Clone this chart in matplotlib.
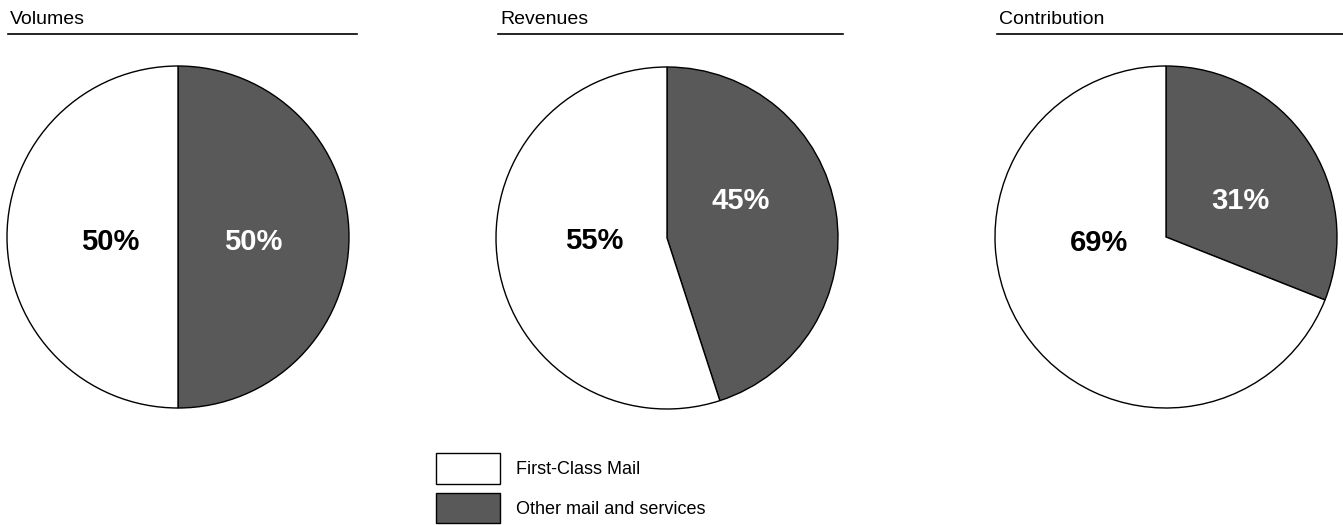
"""
Three pie charts: share of First-Class Mail vs other mail and services
in volumes, revenues and contribution.
"""

import matplotlib.pyplot as plt
from matplotlib.lines import Line2D
from matplotlib.patches import Patch

plt.rcParams["font.family"] = ["Liberation Sans", "DejaVu Sans"]

panels = ["Volumes", "Revenues", "Contribution"]
categories = ["First-Class Mail", "Other mail and services"]
first_class = [50, 55, 69]
other = [50, 45, 31]

LIGHT = "#ffffff"
DARK = "#595959"

W, H = 1343, 525
fig = plt.figure(figsize=(W / 100, H / 100), dpi=100)

# pixel geometry of each pie (center x, center y, radius) and title rule
pie_pos = [(178, 237), (667, 238), (1166, 237)]
radius = 171
rules = [(8, 357), (498, 843), (997, 1343)]
# label offsets in units of radius: (first-class label, other label)
label_off = [
    ((-0.395, -0.032), (0.44, -0.032)),
    ((-0.424, -0.018), (0.43, 0.216)),
    ((-0.39, -0.035), (0.436, 0.21)),
]

for i, name in enumerate(panels):
    cx, cy = pie_pos[i]
    ax = fig.add_axes([(cx - radius) / W, (H - cy - radius) / H,
                       2 * radius / W, 2 * radius / H])
    vals = [other[i], first_class[i]]
    wedges, texts, autotexts = ax.pie(
        vals, colors=[DARK, LIGHT], startangle=90, counterclock=False,
        radius=1.0, autopct="%d%%",
        wedgeprops=dict(edgecolor="black", linewidth=1.0),
        textprops=dict(fontsize=21, fontweight="bold"))
    ax.set_xlim(-1.0, 1.0)
    ax.set_ylim(-1.0, 1.0)
    ax.set_aspect("equal")
    # dark slice label in white, light slice label in black
    autotexts[0].set_color("white")
    autotexts[0].set_position(label_off[i][1])
    autotexts[1].set_color("black")
    autotexts[1].set_position(label_off[i][0])
    for t in autotexts:
        t.set_ha("center")
        t.set_va("center")

    x0, x1 = rules[i]
    fig.text((x0 + 2) / W, 1 - 20 / H, name, fontsize=14,
             ha="left", va="center")
    fig.add_artist(Line2D([x0 / W, x1 / W], [1 - 34 / H, 1 - 34 / H],
                          color="black", linewidth=1.2))

handles = [Patch(facecolor=LIGHT, edgecolor="black", linewidth=1.0),
           Patch(facecolor=DARK, edgecolor="black", linewidth=1.0)]
fig.legend(handles, categories, loc="upper left",
           bbox_to_anchor=(436 / W, 1 - 453 / H), frameon=False,
           fontsize=13, handlelength=3.55, handleheight=2.24,
           handletextpad=0.9, labelspacing=0.5, borderpad=0,
           borderaxespad=0)

fig.savefig("out.png", dpi=100, facecolor="white")
